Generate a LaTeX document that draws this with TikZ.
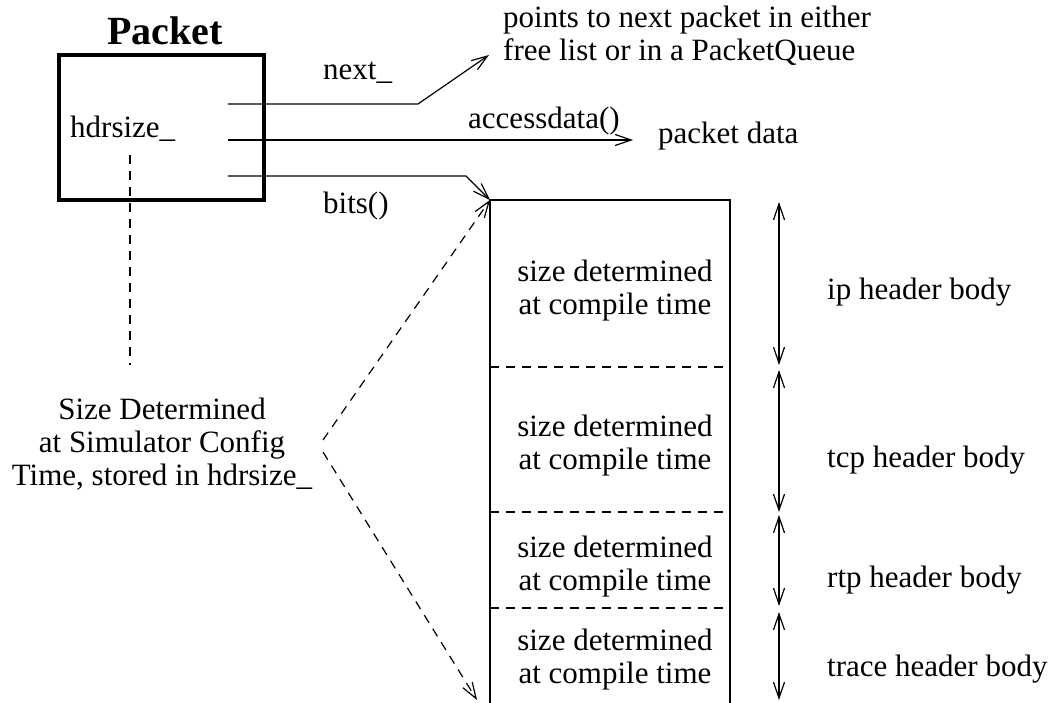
\documentclass[tikz,border=0pt]{standalone}
\usepackage{fontspec}
\setmainfont{Liberation Serif}
\usetikzlibrary{arrows.meta}
\begin{document}
\begin{tikzpicture}[x=1pt,y=-1pt,
  txt/.style={inner sep=0pt,font=\fontsize{31}{33}\selectfont},
  thinline/.style={line width=1.2pt},
  barb/.tip={Straight Barb[length=16pt,width=11pt,line width=1.2pt]},
  arr/.style={thinline,-barb},
  darr/.style={thinline,barb-barb},
  dsh/.style={dash pattern=on 9pt off 7pt},
  sizetxt/.style={txt,align=center}
]
\useasboundingbox (0,0) rectangle (1050,703);
% Packet box
\node[draw,line width=4pt,minimum width=205pt,minimum height=145pt,inner sep=0pt] (pkt) at (161,127.5) {};
\node[inner sep=0pt,font=\fontsize{40}{44}\selectfont\bfseries,anchor=base] (title) at (165,45) {Packet};
\node[txt,anchor=base west] (hdr) at (70,138) {hdrsize\_};
% pointers
\coordinate (s1) at (228,104); \coordinate (k1) at (418,104); \coordinate (t1) at (489,55);
\coordinate (s2) at (228,140); \coordinate (t2) at (633,140);
\coordinate (s3) at (228,176); \coordinate (k3) at (466,176);
% stack
\coordinate (tl) at (490,200); \coordinate (tr) at (730,200);
\coordinate (bl) at (490,703); \coordinate (br) at (730,703);
\coordinate (m1l) at (490,367); \coordinate (m1r) at (730,367);
\coordinate (m2l) at (490,512); \coordinate (m2r) at (730,512);
\coordinate (m3l) at (490,608); \coordinate (m3r) at (730,608);
\draw[thinline] (bl) -- (tl) -- (tr) -- (br);
\draw[thinline,dsh] (m1l) -- (m1r);
\draw[thinline,dsh] (m2l) -- (m2r);
\draw[thinline,dsh] (m3l) -- (m3r);
\draw[arr] (s1) -- (k1) -- (t1);
\draw[arr] (s2) -- (t2);
\draw[arr] (s3) -- (k3) -- (tl);
% labels
\node[txt,anchor=base west] (lnext) at (323,80) {next\_};
\node[txt,anchor=base west] (lbits) at (323,214) {bits()};
\node[txt,anchor=base west] (lacc) at (468,129) {accessdata()};
\node[txt,anchor=base west] (pdata) at (658,144) {packet data};
\node[txt,align=left,anchor=west] (points) at (503,36) {points to next packet in either\\free list or in a PacketQueue};
% size texts
\node[sizetxt] (z1) at (615,291) {size determined\\at compile time};
\node[sizetxt] (z2) at (615,446) {size determined\\at compile time};
\node[sizetxt] (z3) at (615,567) {size determined\\at compile time};
\node[sizetxt] (z4) at (615,660) {size determined\\at compile time};
% double arrows
\coordinate (a1t) at (779,202); \coordinate (a1b) at (779,365);
\coordinate (a2t) at (779,370); \coordinate (a2b) at (779,512);
\coordinate (a3t) at (779,515); \coordinate (a3b) at (779,606);
\coordinate (a4t) at (779,612); \coordinate (a4b) at (779,700);
\draw[darr] (a1t) -- (a1b);
\draw[darr] (a2t) -- (a2b);
\draw[darr] (a3t) -- (a3b);
\draw[darr] (a4t) -- (a4b);
\node[txt,anchor=base west] (h1) at (827,300) {ip header body};
\node[txt,anchor=base west] (h2) at (827,467) {tcp header body};
\node[txt,anchor=base west] (h3) at (827,587) {rtp header body};
\node[txt,anchor=base west] (h4) at (827,676) {trace header body};
% simulator config
\coordinate (v1) at (130,155); \coordinate (v2) at (130,365);
\draw[thinline,dsh] (v1) -- (v2);
\node[sizetxt] (sim) at (162,444) {Size Determined\\at Simulator Config\\Time, stored in hdrsize\_};
\coordinate (d0) at (323,440); \coordinate (d1) at (323,452); \coordinate (d2) at (477,700);
\draw[arr,dsh] (d0) -- (tl);
\draw[arr,dsh] (d1) -- (d2);
\end{tikzpicture}
\end{document}
